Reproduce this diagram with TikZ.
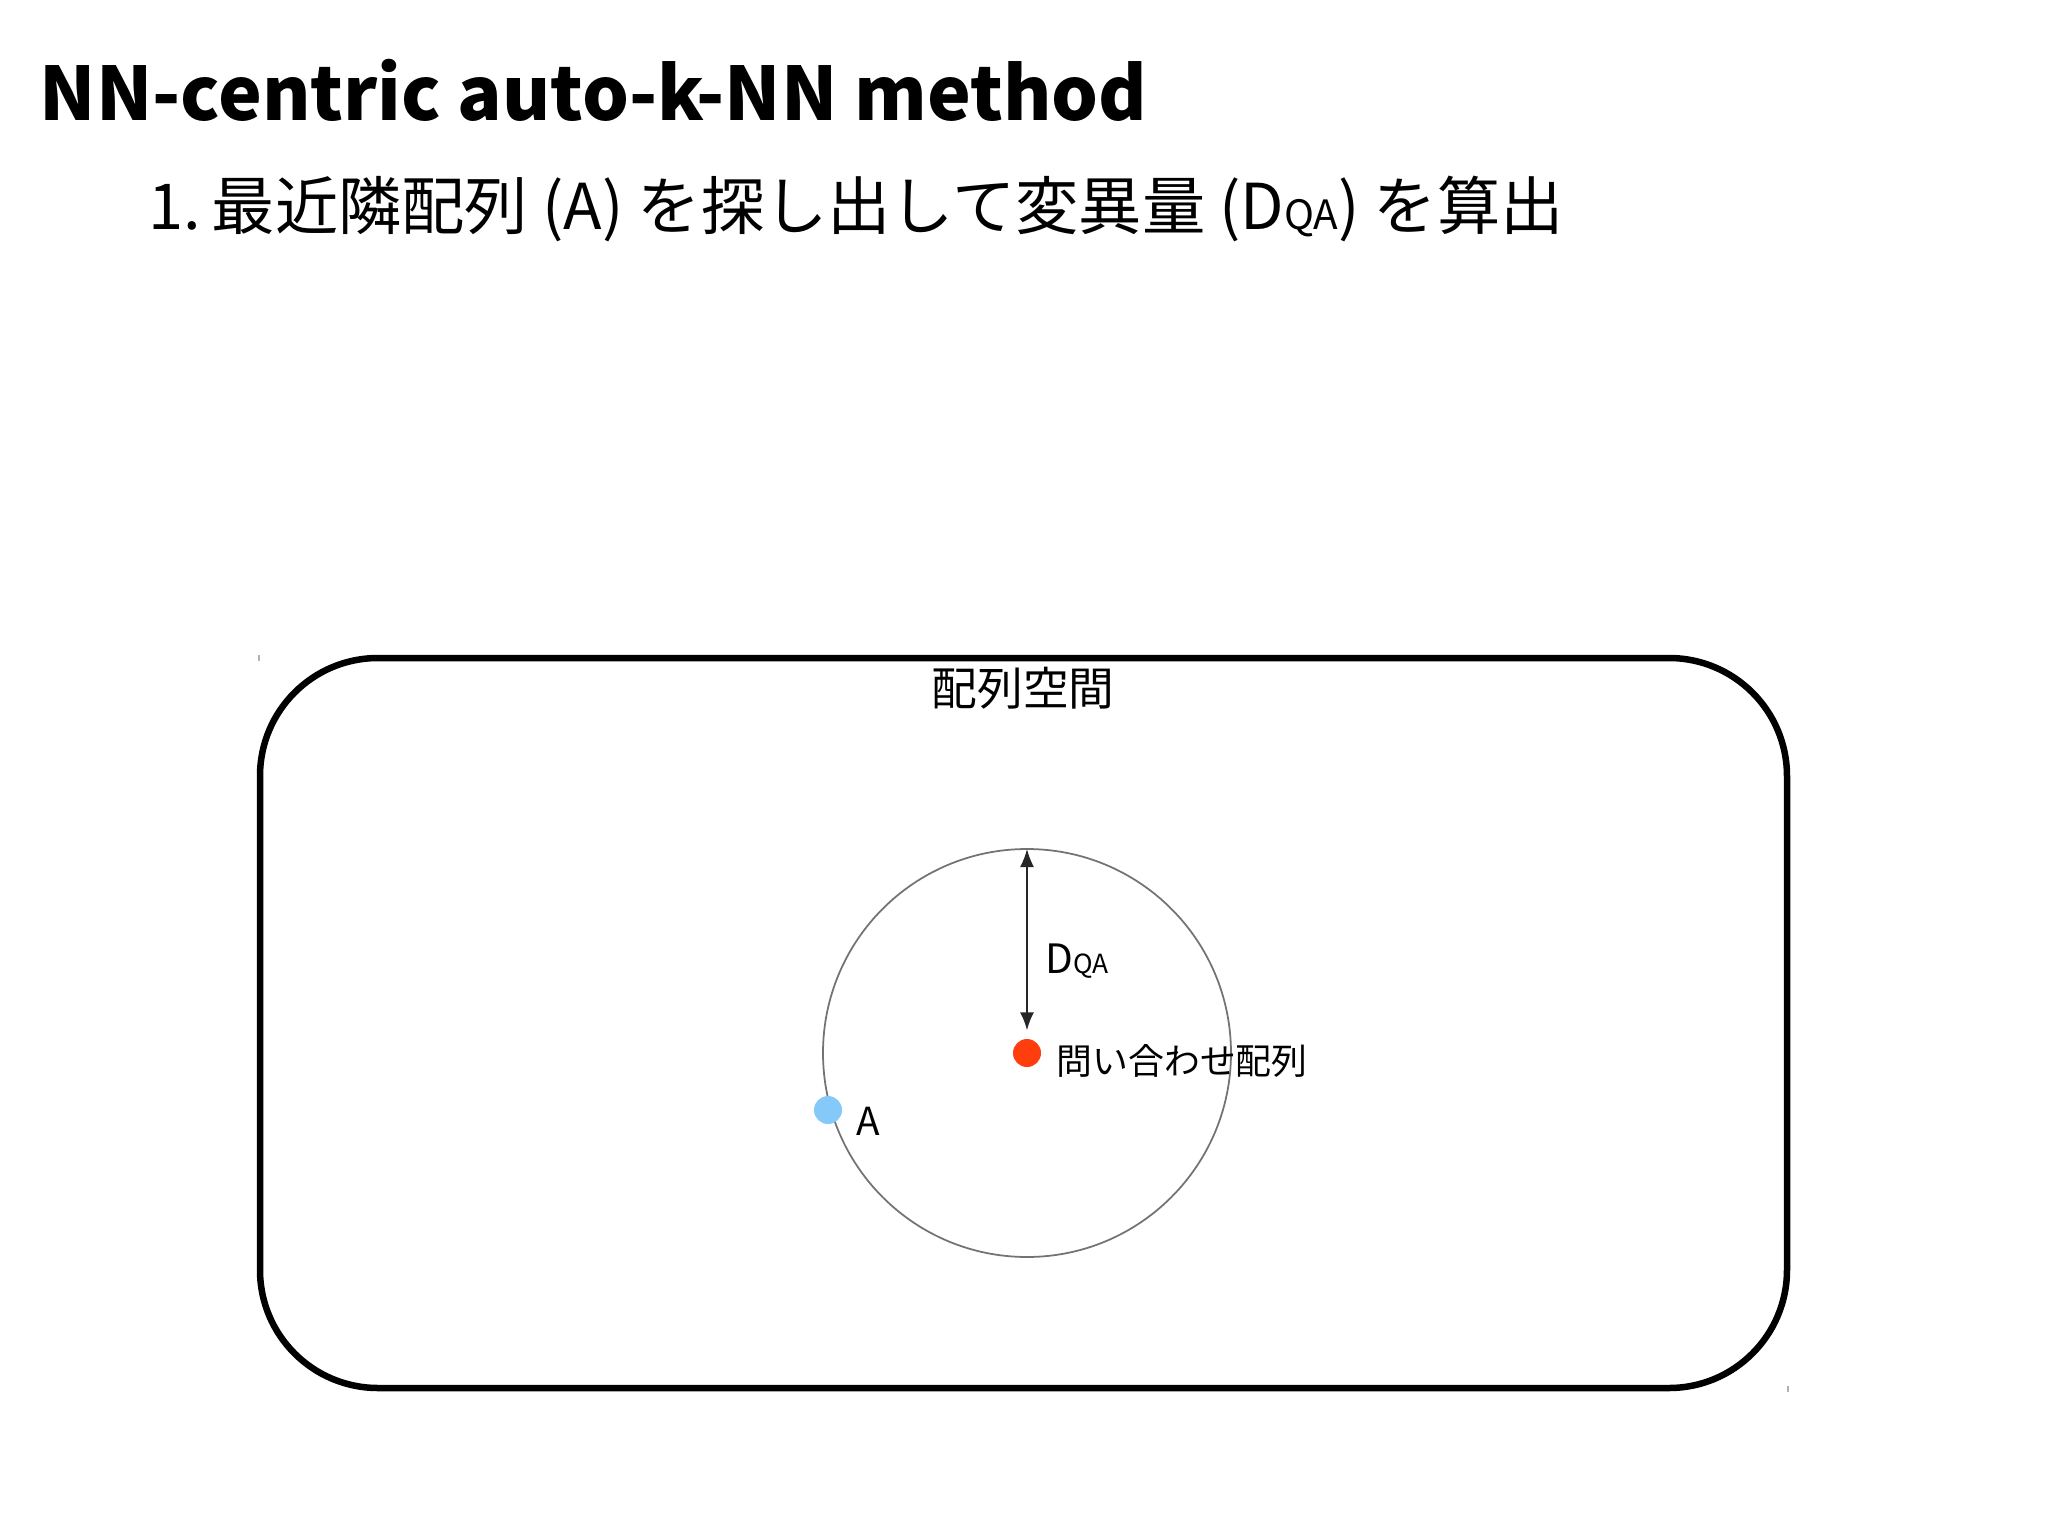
\documentclass[tikz,border=0pt]{standalone}
\usepackage{fontspec}
\setmainfont{Noto Sans CJK JP}
\usetikzlibrary{arrows.meta}
\definecolor{queryred}{HTML}{FF3D0D}
\definecolor{nnblue}{HTML}{84C9F8}
\newcommand{\seqdot}[1]{node[fill=#1,circle,inner sep=0pt,minimum size=0.28cm]}
\newcommand{\sz}[1]{\fontsize{#1}{#1}\selectfont}

\begin{document}
\begin{tikzpicture}[x=1cm,y=1cm,>={Latex[length=0.18cm,width=0.14cm]}]
  \useasboundingbox (0,0) rectangle (20.48,-15.35);
  % title and step
  \node[anchor=base west,inner sep=0pt] (title) at (0.39,-1.20) {\sz{21pt}\bfseries NN-centric auto-k-NN method};
  \node[anchor=west,inner sep=0pt] (step) at (1.48,-2.09) {\sz{18pt}1.\,最近隣配列 (A) を探し出して変異量 (D{\sz{11.5pt}QA}) を算出};
  % sequence space
  \draw[line width=1.85pt,rounded corners=1.18cm] (2.60,-6.58) rectangle (17.87,-13.88);
  \node[inner sep=0pt] (space) at (10.23,-6.88) {\sz{13pt}配列空間};
  \draw[gray!60,line width=0.4pt] (2.59,-6.55) -- (2.59,-6.61);
  \draw[gray!60,line width=0.4pt] (17.88,-13.86) -- (17.88,-13.92);
  % query and nearest neighbour
  \draw (10.27,-10.53) \seqdot{queryred} (q) {};
  \draw[gray!90!black,line width=0.5pt] (q) circle (2.04);
  \draw (8.28,-11.10) \seqdot{nnblue} (a) {};
  \coordinate (rim) at (10.27,-8.49);
  \draw[black!85,line width=0.5pt,<->] (rim) -- ([yshift=0.08cm]q.north);
  \node[anchor=west,inner sep=0pt] (dqa) at (10.45,-9.61) {\sz{11.5pt}D{\sz{7.5pt}QA}};
  \node[anchor=west,inner sep=0pt] (qlabel) at (10.56,-10.61) {\sz{10.2pt}問い合わせ配列};
  \node[anchor=west,inner sep=0pt] (alabel) at (8.56,-11.21) {\sz{11pt}A};
\end{tikzpicture}
\end{document}
